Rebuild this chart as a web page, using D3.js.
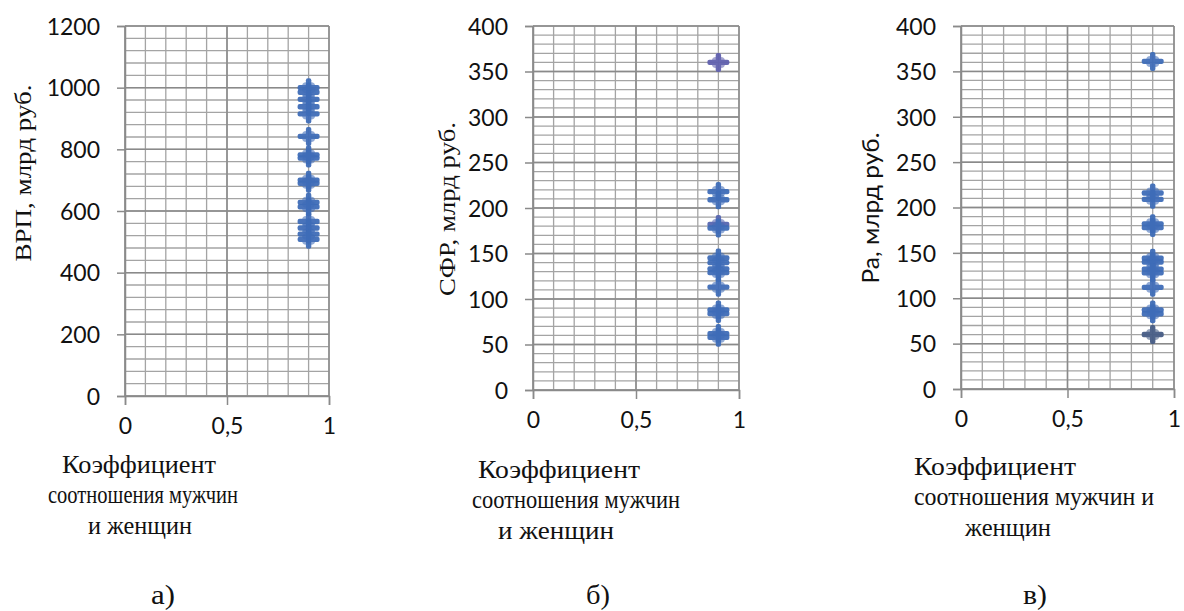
<!DOCTYPE html>
<html><head><meta charset="utf-8">
<script src="https://cdn.jsdelivr.net/npm/d3@7"></script>
<style>
html,body{margin:0;padding:0;background:#fff;}
svg{display:block;}
</style></head>
<body>
<svg id="chart" width="1184" height="611"></svg>
<script>
// ---- data ----
const xTickValues = [0, 0.5, 1];
const xTickLabels = ["0", "0,5", "1"];
const coefficient = 0.9; // коэффициент соотношения мужчин и женщин
const vrpTicks = [0, 200, 400, 600, 800, 1000, 1200];
const sfrTicks = [0, 50, 100, 150, 200, 250, 300, 350, 400];
const raTicks = [0, 50, 100, 150, 200, 250, 300, 350, 400];
const vrpValues = [1000, 985, 962, 938, 915, 842, 782, 772, 700, 690, 628, 614, 566, 545, 525, 508];
const sfrValues = [360, 218, 209, 182, 178, 145, 140, 133, 129, 113, 88, 84, 62, 58];
const raValues = [361, 216, 209, 182, 178, 144, 140, 132, 128, 112, 87, 83, 60];
const yTitles = ["ВРП, млрд руб.", "СФР, млрд руб.", "Ра, млрд руб."];
const xTitleLines = ["Коэффициент", "соотношения мужчин", "и женщин"];
const xTitleLinesC = ["Коэффициент", "соотношения мужчин и", "женщин"];
const panelLetters = ["а)", "б)", "в)"];

// ---- layout ----
const panels = [
  {vals: vrpValues, ticks: vrpTicks, max: 1200, minor: 40, x0: 125, x1: 329, y0: 26, y1: 396,
   title: yTitles[0], tFont: "Liberation Serif", tX: 31, tY: 173, tLen: 177,
   lines: xTitleLines, lineX: [139, 143, 140], lineY: [473, 503, 534], lineLen: [154, 190, 104],
   letter: panelLetters[0], letterX: 163,
   colors: vrpValues.map(() => "#3f6db8")},
  {vals: sfrValues, ticks: sfrTicks, max: 400, minor: 10, x0: 533, x1: 739, y0: 26, y1: 390,
   title: yTitles[1], tFont: "Liberation Serif", tX: 455, tY: 209, tLen: 174,
   lines: xTitleLines, lineX: [559, 576, 556], lineY: [478, 508, 539], lineLen: [162, 208, 116],
   letter: panelLetters[1], letterX: 598,
   colors: sfrValues.map((v, i) => i === 0 ? "#6060ae" : (i === 3 ? "#5866b0" : "#3f6db8"))},
  {vals: raValues, ticks: raTicks, max: 400, minor: 10, x0: 961, x1: 1174, y0: 26, y1: 389,
   title: yTitles[2], tFont: "Lato", tX: 879, tY: 208, tLen: 151,
   lines: xTitleLinesC, lineX: [995, 1034, 1008], lineY: [475, 505, 536], lineLen: [162, 240, 86],
   letter: panelLetters[2], letterX: 1035,
   colors: raValues.map((v, i) => i === raValues.length - 1 ? "#475d85" : "#3f6db8")}
];

const svg = d3.select("#chart");
const defs = svg.append("defs");
defs.append("filter").attr("id", "soft").attr("x", "-30%").attr("y", "-30%").attr("width", "160%").attr("height", "160%")
  .append("feGaussianBlur").attr("stdDeviation", 0.7);

panels.forEach(p => {
  const x = d3.scaleLinear().domain([0, 1]).range([p.x0, p.x1]);
  const y = d3.scaleLinear().domain([0, p.max]).range([p.y1, p.y0]);
  const g = svg.append("g");

  const minorY = d3.range(0, p.max + 0.001, p.minor);
  g.append("g").selectAll("line").data(minorY).join("line")
    .attr("x1", p.x0).attr("x2", p.x1)
    .attr("y1", d => y(d)).attr("y2", d => y(d))
    .attr("stroke", "#a4a4a4").attr("stroke-width", 1.3);
  const minorX = d3.range(0, 1.0001, 0.1);
  g.append("g").selectAll("line").data(minorX).join("line")
    .attr("x1", d => x(d)).attr("x2", d => x(d))
    .attr("y1", p.y0).attr("y2", p.y1)
    .attr("stroke", "#a4a4a4").attr("stroke-width", 1.3);
  g.append("g").selectAll("line").data(p.ticks).join("line")
    .attr("x1", p.x0).attr("x2", p.x1)
    .attr("y1", d => y(d)).attr("y2", d => y(d))
    .attr("stroke", "#8a8a8a").attr("stroke-width", 1.5);
  g.append("g").selectAll("line").data(xTickValues).join("line")
    .attr("x1", d => x(d)).attr("x2", d => x(d))
    .attr("y1", p.y0).attr("y2", p.y1)
    .attr("stroke", "#8a8a8a").attr("stroke-width", 1.5);

  const yAxis = d3.axisLeft(y).tickValues(p.ticks).tickSize(8).tickPadding(17).tickFormat(d => String(d));
  const ya = g.append("g").attr("transform", `translate(${p.x0},0)`).call(yAxis);
  const xAxis = d3.axisBottom(x).tickValues(xTickValues).tickSize(9).tickPadding(12)
    .tickFormat((d, i) => xTickLabels[i]);
  const xa = g.append("g").attr("transform", `translate(0,${p.y1})`).call(xAxis);
  [ya, xa].forEach(a => {
    a.select(".domain").attr("stroke", "#8a8a8a").attr("stroke-width", 1.5);
    a.selectAll(".tick line").attr("stroke", "#8a8a8a").attr("stroke-width", 1.5);
    a.selectAll("text").attr("fill", "#111").attr("font-family", "Lato").attr("font-size", 23);
  });
  ya.selectAll("text").attr("dy", "0.36em");
  xa.selectAll("text").attr("dy", "0.72em");

  const mg = g.append("g").attr("filter", "url(#soft)");
  p.vals.forEach((v, i) => {
    const cx = x(coefficient), cy = y(v);
    const m = mg.append("g").attr("transform", `translate(${cx},${cy})`).attr("fill", p.colors[i]).attr("opacity", 0.95);
    m.append("rect").attr("x", -11).attr("y", -2.7).attr("width", 22).attr("height", 5.4).attr("rx", 2);
    m.append("rect").attr("x", -2.7).attr("y", -9.5).attr("width", 5.4).attr("height", 19).attr("rx", 2);
    m.append("rect").attr("x", -6.5).attr("y", -5.5).attr("width", 13).attr("height", 11).attr("rx", 4).attr("opacity", 0.6);
  });

  svg.append("text")
    .attr("transform", `translate(${p.tX},${p.tY}) rotate(-90)`)
    .attr("text-anchor", "middle")
    .attr("textLength", p.tLen).attr("lengthAdjust", "spacingAndGlyphs")
    .attr("font-family", p.tFont).attr("font-size", 24).attr("fill", "#111")
    .text(p.title);

  p.lines.forEach((t, i) => {
    svg.append("text")
      .attr("x", p.lineX[i] - p.lineLen[i] / 2).attr("y", p.lineY[i])
      .attr("textLength", p.lineLen[i]).attr("lengthAdjust", "spacingAndGlyphs")
      .attr("font-family", "Liberation Serif").attr("font-size", 26).attr("fill", "#111")
      .text(t);
  });

  svg.append("text")
    .attr("x", p.letterX - 12).attr("y", 604)
    .attr("textLength", 24).attr("lengthAdjust", "spacingAndGlyphs")
    .attr("font-family", "Liberation Serif").attr("font-size", 28).attr("fill", "#111")
    .text(p.letter);
});
</script>
</body></html>
